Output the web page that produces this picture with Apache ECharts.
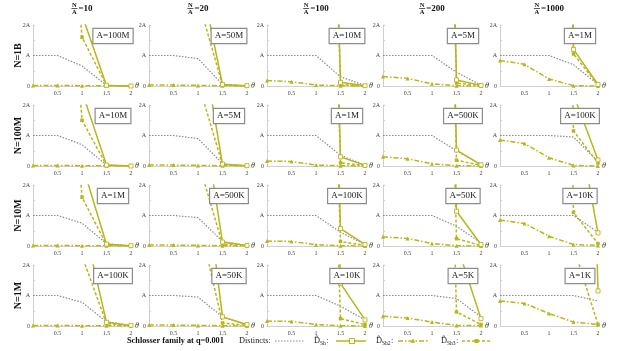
<!DOCTYPE html>
<html><head><meta charset="utf-8">
<script src="https://cdn.jsdelivr.net/npm/echarts@6/dist/echarts.min.js"></script>
<style>html,body{margin:0;padding:0;background:#fff}#c{width:619px;height:351px}</style>
</head><body><div id="c"></div>
<script>
// ---- data ----
const thetas = [0, 0.5, 1, 1.5, 2];
const ratios = ['10', '20', '100', '200', '1000'];
const rowLabels = ['N=1B', 'N=100M', 'N=10M', 'N=1M'];
const boxLabels = [
  ['A=100M', 'A=50M', 'A=10M', 'A=5M', 'A=1M'],
  ['A=10M', 'A=5M', 'A=1M', 'A=500K', 'A=100K'],
  ['A=1M', 'A=500K', 'A=100K', 'A=50K', 'A=10K'],
  ['A=100K', 'A=50K', 'A=10K', 'A=5K', 'A=1K']
];
const yTickLabels = {0: '0', 1: 'A', 2: '2A'};
// values in units of A, per row (N) and column (N/A)
const distincts = [
  [[1,1,0.66,0.02,0],[1,1,0.9,0.05,0],[1,1,1,0.3,0.02],[1,1,1,0.45,0.03],[1,1,1,0.7,0.05]],
  [[1,1,0.7,0.03,0],[1,1,0.9,0.08,0],[1,1,1,0.35,0.03],[1,1,1,0.5,0.05],[1,1,1,0.95,0.15]],
  [[1,1,0.75,0.08,0],[1,1,0.93,0.15,0.01],[1,1,1,0.45,0.05],[1,1,1,0.65,0.1],[1,1,1,1,0.45]],
  [[1,1,0.78,0.14,0.01],[1,1,0.95,0.3,0.03],[1,1,1,0.65,0.2],[1,1,1,0.9,0.3],[1,1,1,1,0.82]]
];
const dSh = [
  [[60,20,2.33,0.02,0],[80,25,3.95,0.05,0.01],[100,40,30,0.12,0.01],[120,50,35,0.2,0.02],[150,80,50,1.2,0.05]],
  [[60,20,2.44,0.03,0],[80,25,4.85,0.06,0.01],[100,40,30,0.3,0.02],[120,50,35,0.52,0.04],[150,80,40,2.34,0.2]],
  [[60,20,2.7,0.06,0.01],[80,25,5.3,0.13,0.02],[100,40,30,0.57,0.05],[120,50,35,1.14,0.05],[150,80,40,4.8,0.43]],
  [[60,20,3.6,0.12,0.02],[80,25,6.8,0.3,0.05],[100,40,30,1.4,0.2],[120,50,35,2.7,0.24],[150,80,40,30,1.15]]
];
const dSh2 = [
  [[0.02,0.02,0.01,0.01,0],[0.03,0.03,0.02,0.01,0],[0.18,0.14,0.03,0.01,0],[0.31,0.25,0.07,0.01,0],[0.84,0.71,0.23,0.01,0]],
  [[0.02,0.02,0.01,0.01,0],[0.03,0.03,0.02,0.01,0],[0.16,0.15,0.03,0.01,0],[0.3,0.24,0.07,0.01,0],[0.85,0.74,0.27,0.02,0]],
  [[0.02,0.02,0.01,0.01,0],[0.03,0.03,0.02,0.01,0],[0.16,0.15,0.04,0.01,0],[0.3,0.25,0.08,0.01,0],[0.85,0.74,0.32,0.05,0.02]],
  [[0.02,0.02,0.01,0.01,0],[0.03,0.03,0.02,0.01,0],[0.16,0.15,0.05,0.01,0],[0.32,0.26,0.13,0.02,0.02],[0.82,0.74,0.41,0.13,0.05]]
];
const dSh3 = [
  [[40,12,1.6,0.02,0],[50,15,2.84,0.03,0],[80,35,25,0.05,0],[100,40,30,0.1,0.01],[120,60,40,1.05,0.03]],
  [[40,12,1.5,0.02,0],[50,15,2.76,0.04,0.01],[80,35,25,0.1,0.01],[100,40,30,0.19,0.02],[120,60,40,1.15,0.1]],
  [[40,12,1.6,0.04,0],[50,15,2.8,0.06,0.01],[80,35,25,0.15,0.02],[100,40,30,0.24,0.02],[120,60,40,1.1,0.08]],
  [[40,12,2.3,0.08,0.01],[50,15,3.6,0.1,0.02],[80,35,25,0.24,0.05],[100,40,30,0.46,0.05],[120,60,40,2.6,0.05]]
];

// ---- layout / style ----
const colLeft = [33, 149, 267, 383, 500];
const rowTop = [25, 105, 185, 265];
const PW = 98, PH = 61;
const OLIVE = '#bab519';
const GRAY = '#8a8a8a';
const FONT = '"Liberation Serif","DejaVu Serif",serif';

const chart = echarts.init(document.getElementById('c'), null, {renderer: 'canvas'});
const grids = [], xAxes = [], yAxes = [], series = [], graphics = [];
const mctx = document.createElement('canvas').getContext('2d');
function tw(t, size, bold) { mctx.font = (bold ? 'bold ' : '') + size + 'px ' + FONT; return mctx.measureText(t).width; }

const mk = arr => thetas.map((t, i) => [t, arr[i]]);
let idx = 0;
for (let r = 0; r < 4; r++) {
  for (let c = 0; c < 5; c++) {
    grids.push({left: colLeft[c], top: rowTop[r], width: PW, height: PH});
    xAxes.push({
      type: 'value', gridIndex: idx, min: 0, max: 2, interval: 0.5,
      axisLine: {lineStyle: {color: '#cfcfcf', width: 1}},
      axisTick: {show: false},
      splitLine: {show: false},
      axisLabel: {fontFamily: FONT, fontSize: 6, color: '#444', margin: 4,
        formatter: v => v === 0 ? '' : String(v)},
      name: 'θ', nameLocation: 'end', nameGap: 4,
      nameTextStyle: {fontFamily: FONT, fontStyle: 'italic', fontSize: 8, color: '#333', verticalAlign: 'middle'}
    });
    yAxes.push({
      type: 'value', gridIndex: idx, min: 0, max: 2, interval: 0.5,
      axisLine: {show: true, lineStyle: {color: '#cfcfcf', width: 1}},
      axisTick: {show: true, length: 2, inside: true, lineStyle: {color: '#cfcfcf'}},
      splitLine: {show: false},
      axisLabel: {fontFamily: FONT, fontSize: 6, color: '#444', margin: 3,
        formatter: v => yTickLabels[v] !== undefined ? yTickLabels[v] : ''}
    });
    const base = {type: 'line', xAxisIndex: idx, yAxisIndex: idx, clip: true, animation: false, silent: true};
    series.push(Object.assign({}, base, {
      name: 'Distincts', data: mk(distincts[r][c]), showSymbol: false, z: 2,
      lineStyle: {color: GRAY, width: 1.2, type: [1.5, 1.5]}, itemStyle: {color: GRAY}
    }));
    series.push(Object.assign({}, base, {
      name: 'Sh', data: mk(dSh[r][c]), symbol: 'rect', symbolSize: 4, z: 4,
      lineStyle: {color: OLIVE, width: 1.5},
      itemStyle: {color: '#fff', borderColor: OLIVE, borderWidth: 0.9}
    }));
    series.push(Object.assign({}, base, {
      name: 'Sh2', data: mk(dSh2[r][c]), symbol: 'triangle', symbolSize: 4, z: 3,
      lineStyle: {color: OLIVE, width: 1.5, type: [5, 2, 1.5, 2]},
      itemStyle: {color: OLIVE}
    }));
    series.push(Object.assign({}, base, {
      name: 'Sh3', data: mk(dSh3[r][c]), symbol: 'rect', symbolSize: 3.5, z: 3,
      lineStyle: {color: OLIVE, width: 1.5, type: [3, 2]},
      itemStyle: {color: OLIVE}
    }));
    // annotation box
    graphics.push({
      type: 'text', x: colLeft[c] + 80, y: rowTop[r] + 11, z: 10,
      style: {text: boxLabels[r][c], font: '9px ' + FONT, fill: '#222',
        align: 'center', verticalAlign: 'middle',
        backgroundColor: '#fff', borderColor: '#8c8c8c', borderWidth: 1.2, padding: [3, 3, 2, 3]}
    });
    idx++;
  }
}
// column titles: N/A = value
for (let c = 0; c < 5; c++) {
  const pc = colLeft[c] + PW / 2;
  const eq = '=' + ratios[c];
  const eqW = tw(eq, 9, true);
  const fracW = 6;
  const total = fracW + 1 + eqW;
  const fx = pc - total / 2 + fracW / 2;
  graphics.push({type: 'text', x: fx, y: 5, style: {text: 'N', font: 'bold 6.5px ' + FONT, fill: '#111', align: 'center', verticalAlign: 'middle'}});
  graphics.push({type: 'line', shape: {x1: fx - 3, y1: 8.5, x2: fx + 3, y2: 8.5}, style: {stroke: '#111', lineWidth: 0.7}});
  graphics.push({type: 'text', x: fx, y: 12, style: {text: 'A', font: 'bold 6.5px ' + FONT, fill: '#111', align: 'center', verticalAlign: 'middle'}});
  graphics.push({type: 'text', x: fx + fracW / 2 + 1, y: 9, style: {text: eq, font: 'bold 9px ' + FONT, fill: '#111', align: 'left', verticalAlign: 'middle'}});
}
// row labels
for (let r = 0; r < 4; r++) {
  graphics.push({type: 'text', x: 18, y: rowTop[r] + PH / 2, rotation: Math.PI / 2,
    style: {text: rowLabels[r], font: 'bold 10px ' + FONT, fill: '#111', align: 'center', verticalAlign: 'middle'}});
}
// legend
const LY = 341;
graphics.push({type: 'text', x: 127, y: LY, style: {text: 'Schlosser family at q=0.001', font: 'bold 8.3px ' + FONT, fill: '#111', align: 'left', verticalAlign: 'middle'}});
graphics.push({type: 'text', x: 239, y: LY, style: {text: 'Distincts:', font: '8.3px ' + FONT, fill: '#222', align: 'left', verticalAlign: 'middle'}});
graphics.push({type: 'line', shape: {x1: 275, y1: LY, x2: 305, y2: LY}, style: {stroke: GRAY, lineWidth: 1.2, lineDash: [1.5, 1.5]}});
function dlabel(x, sub) {
  graphics.push({type: 'text', x: x, y: LY, style: {text: 'D\u0302', font: '8.3px ' + FONT, fill: '#222', align: 'left', verticalAlign: 'middle'}});
  graphics.push({type: 'text', x: x + 6, y: LY + 2.5, style: {text: sub, font: '5.5px ' + FONT, fill: '#222', align: 'left', verticalAlign: 'middle'}});
  const sw = tw(sub, 5.5, false);
  graphics.push({type: 'text', x: x + 6 + sw + 0.5, y: LY, style: {text: ':', font: '8.3px ' + FONT, fill: '#222', align: 'left', verticalAlign: 'middle'}});
}
dlabel(314, 'Sh');
graphics.push({type: 'line', shape: {x1: 336, y1: LY, x2: 366, y2: LY}, style: {stroke: OLIVE, lineWidth: 1.5}});
graphics.push({type: 'rect', shape: {x: 349.5, y: LY - 2.5, width: 5, height: 5}, style: {fill: '#fff', stroke: OLIVE, lineWidth: 1}});
dlabel(376, 'Sh2');
graphics.push({type: 'line', shape: {x1: 398, y1: LY, x2: 428, y2: LY}, style: {stroke: OLIVE, lineWidth: 1.5, lineDash: [5, 2, 1.5, 2]}});
graphics.push({type: 'polygon', shape: {points: [[413, LY - 2.6], [415.3, LY + 1.8], [410.7, LY + 1.8]]}, style: {fill: OLIVE}});
dlabel(441, 'Sh3');
graphics.push({type: 'line', shape: {x1: 462, y1: LY, x2: 491, y2: LY}, style: {stroke: OLIVE, lineWidth: 1.5, lineDash: [3, 2]}});
graphics.push({type: 'rect', shape: {x: 474.5, y: LY - 2, width: 4, height: 4}, style: {fill: OLIVE}});

chart.setOption({
  animation: false,
  backgroundColor: '#fff',
  grid: grids, xAxis: xAxes, yAxis: yAxes, series: series,
  graphic: graphics
});
</script></body></html>
